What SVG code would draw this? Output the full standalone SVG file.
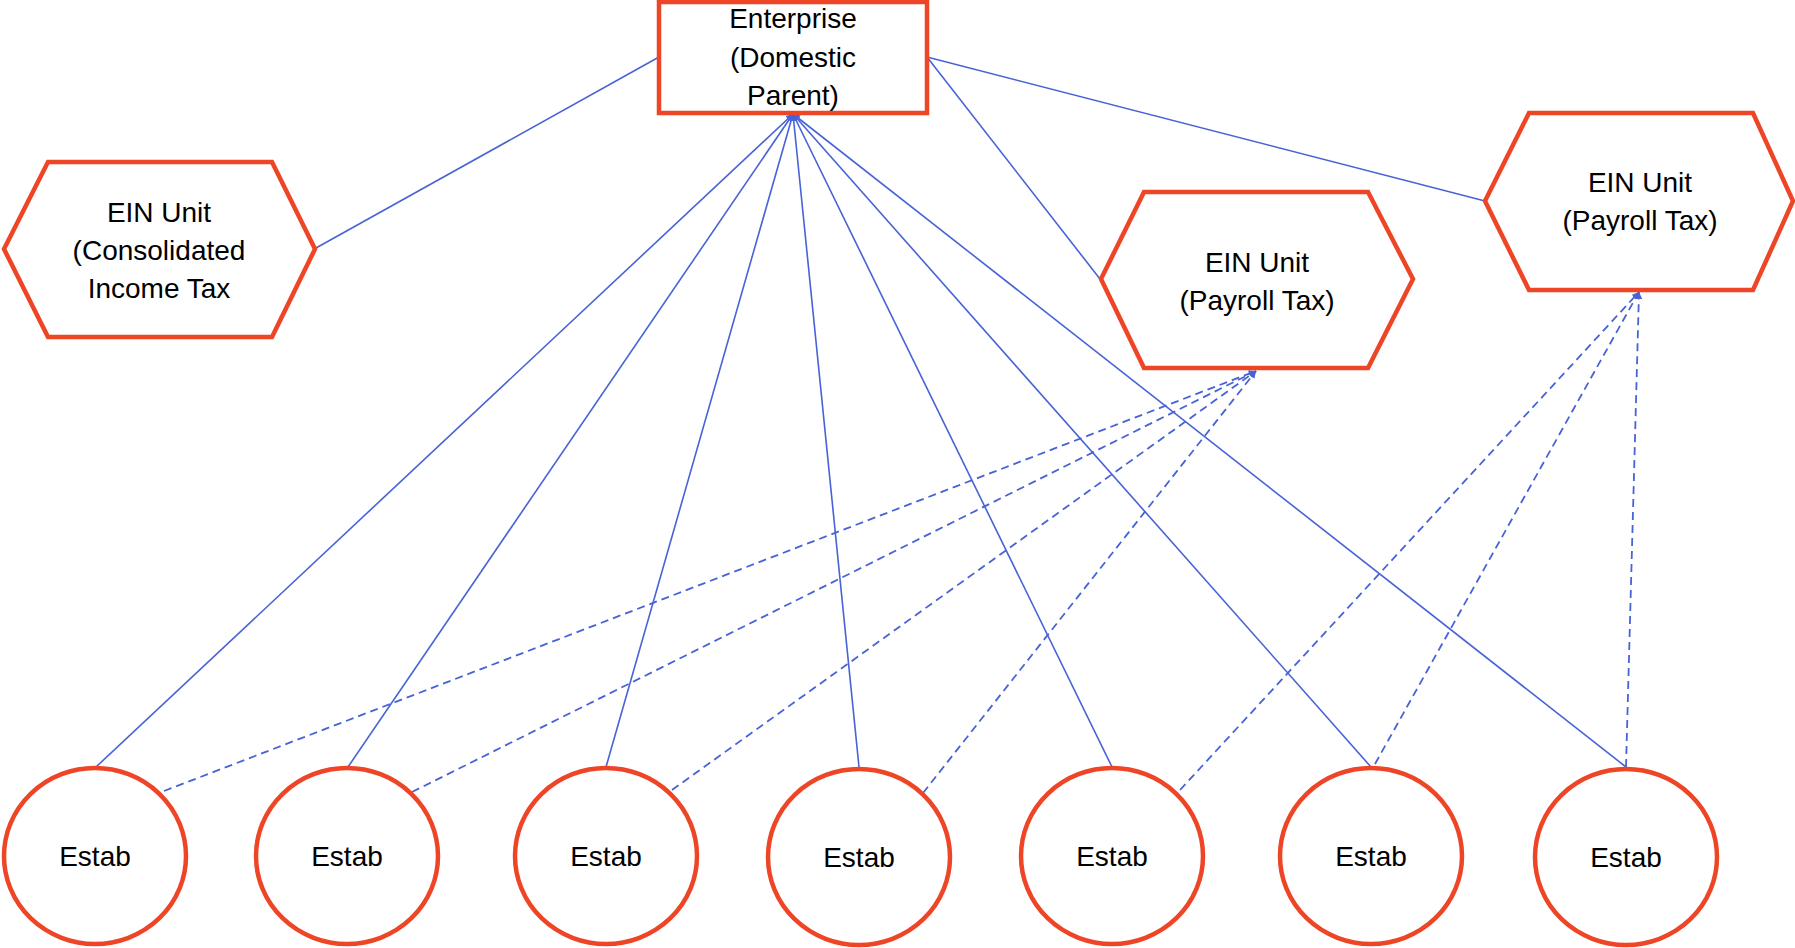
<svg xmlns="http://www.w3.org/2000/svg" width="1795" height="948" viewBox="0 0 1795 948">
<style>
.shape{fill:#ffffff;stroke:#EE4527;stroke-width:4.5;stroke-linejoin:miter}
.lbl{font-family:"Liberation Sans",Arial,sans-serif;font-size:28px;fill:#000000;text-anchor:middle}
.solid{stroke:#4763D6;stroke-width:1.6;fill:none}
.dash{stroke:#4763D6;stroke-width:1.8;fill:none;stroke-dasharray:8 5}
</style>
<defs>
<marker id="arr" viewBox="0 0 10 10" refX="10" refY="5" markerWidth="7" markerHeight="7" markerUnits="userSpaceOnUse" orient="auto">
<path d="M0,0 L10,5 L0,10 z" fill="#4763D6"/>
</marker>
</defs>
<rect width="1795" height="948" fill="#ffffff"/>
<g id="connectors">
<line class="solid" x1="659" y1="57" x2="316" y2="248"/>
<line class="solid" x1="927" y1="57" x2="1100" y2="279"/>
<line class="solid" x1="927" y1="57" x2="1485" y2="201"/>
<line class="solid" x1="96" y1="767" x2="793" y2="114" marker-end="url(#arr)"/>
<line class="solid" x1="348" y1="767" x2="793" y2="114" marker-end="url(#arr)"/>
<line class="solid" x1="606" y1="767" x2="793" y2="114" marker-end="url(#arr)"/>
<line class="solid" x1="859" y1="767" x2="793" y2="114" marker-end="url(#arr)"/>
<line class="solid" x1="1112" y1="767" x2="793" y2="114" marker-end="url(#arr)"/>
<line class="solid" x1="1371" y1="767" x2="793" y2="114" marker-end="url(#arr)"/>
<line class="solid" x1="1626" y1="767" x2="793" y2="114" marker-end="url(#arr)"/>
<line class="dash" x1="164" y1="791" x2="1256" y2="371" marker-end="url(#arr)"/>
<line class="dash" x1="412" y1="792" x2="1256" y2="371" marker-end="url(#arr)"/>
<line class="dash" x1="672" y1="790" x2="1256" y2="371" marker-end="url(#arr)"/>
<line class="dash" x1="923" y1="793" x2="1256" y2="371" marker-end="url(#arr)"/>
<line class="dash" x1="1180" y1="790" x2="1639" y2="292" marker-end="url(#arr)"/>
<line class="dash" x1="1375" y1="764" x2="1639" y2="292" marker-end="url(#arr)"/>
<line class="dash" x1="1626" y1="767" x2="1639" y2="292" marker-end="url(#arr)"/>
</g>
<g id="enterprise">
<rect class="shape" x="659" y="2" width="268" height="111"/>
<text class="lbl" x="793" y="28">Enterprise</text>
<text class="lbl" x="793" y="67">(Domestic</text>
<text class="lbl" x="793" y="105">Parent)</text>
</g>
<g id="ein-consolidated">
<polygon class="shape" points="4,249 48,162 272,162 315,249 272,337 48,337"/>
<text class="lbl" x="159" y="222">EIN Unit</text>
<text class="lbl" x="159" y="260">(Consolidated</text>
<text class="lbl" x="159" y="298">Income Tax</text>
</g>
<g id="ein-payroll-1">
<polygon class="shape" points="1101,279 1144,192 1368,192 1413,279 1368,368 1144,368"/>
<text class="lbl" x="1257" y="272">EIN Unit</text>
<text class="lbl" x="1257" y="310">(Payroll Tax)</text>
</g>
<g id="ein-payroll-2">
<polygon class="shape" points="1485,201 1529,113 1753,113 1793,201 1753,290 1529,290"/>
<text class="lbl" x="1640" y="192">EIN Unit</text>
<text class="lbl" x="1640" y="230">(Payroll Tax)</text>
</g>
<g id="estab-1"><ellipse class="shape" cx="95" cy="856" rx="91" ry="88"/><text class="lbl" x="95" y="866">Estab</text></g>
<g id="estab-2"><ellipse class="shape" cx="347" cy="856" rx="91" ry="88"/><text class="lbl" x="347" y="866">Estab</text></g>
<g id="estab-3"><ellipse class="shape" cx="606" cy="856" rx="91" ry="88"/><text class="lbl" x="606" y="866">Estab</text></g>
<g id="estab-4"><ellipse class="shape" cx="859" cy="857" rx="91" ry="88"/><text class="lbl" x="859" y="867">Estab</text></g>
<g id="estab-5"><ellipse class="shape" cx="1112" cy="856" rx="91" ry="88"/><text class="lbl" x="1112" y="866">Estab</text></g>
<g id="estab-6"><ellipse class="shape" cx="1371" cy="856" rx="91" ry="88"/><text class="lbl" x="1371" y="866">Estab</text></g>
<g id="estab-7"><ellipse class="shape" cx="1626" cy="857" rx="91" ry="88"/><text class="lbl" x="1626" y="867">Estab</text></g>
</svg>
